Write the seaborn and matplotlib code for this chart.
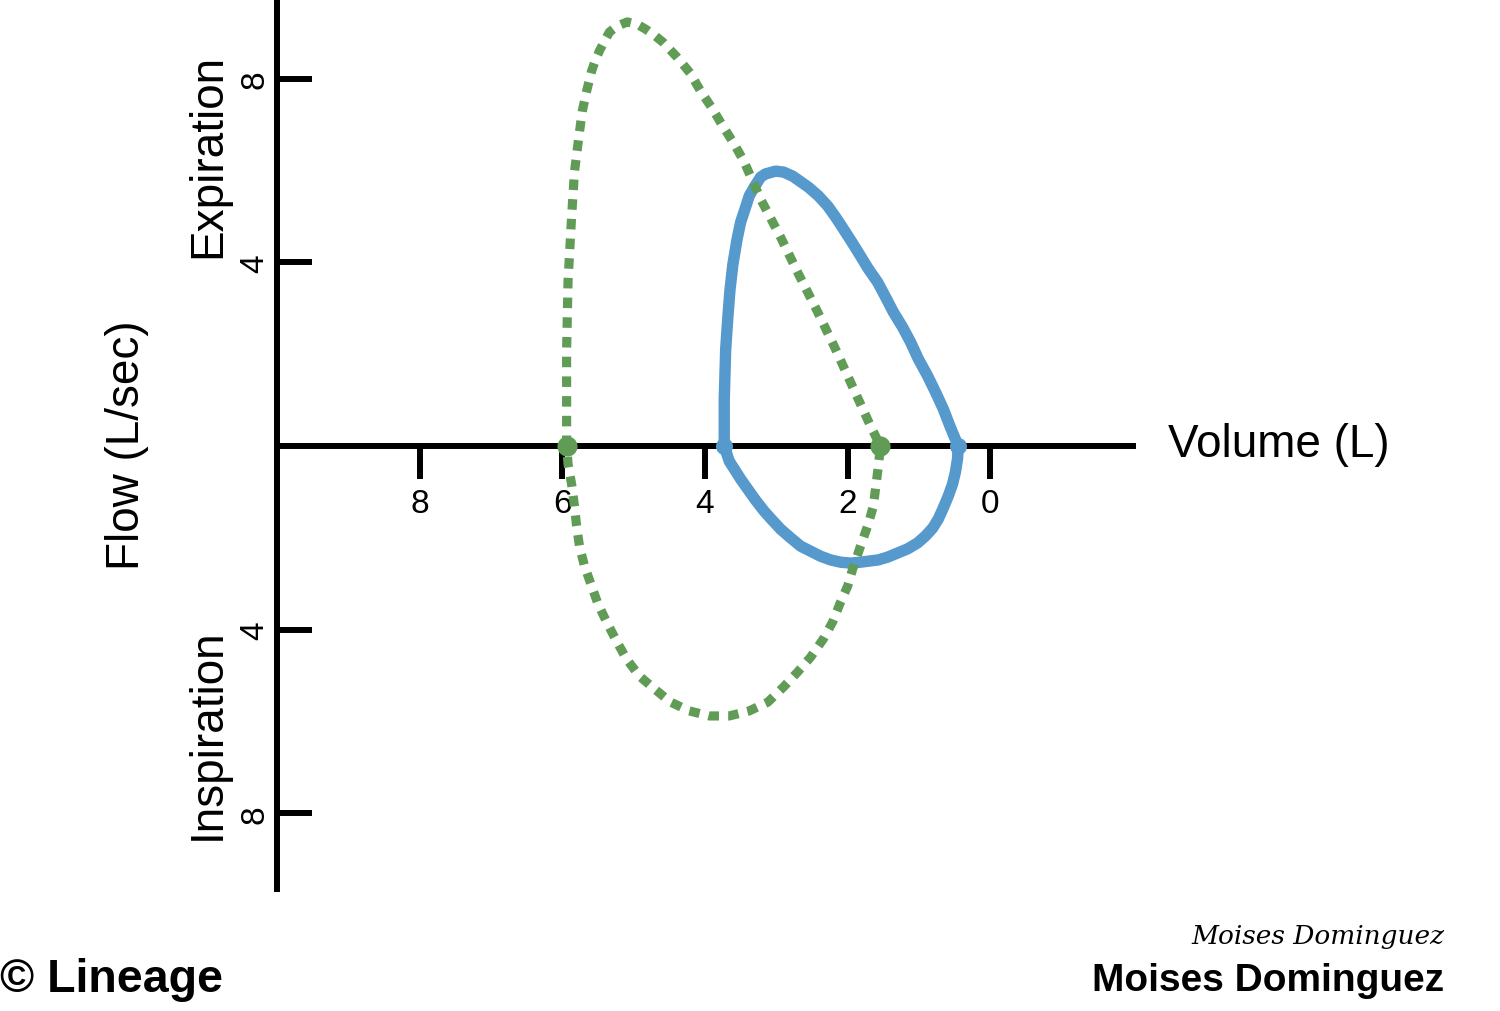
import numpy as np
import pandas as pd
import matplotlib
matplotlib.use("Agg")
import matplotlib.pyplot as plt
import seaborn as sns

# Curva verde (punteada): espiración y luego inspiración
green_exp_vol = [5.94, 5.94, 5.92, 5.87, 5.83, 5.76, 5.72, 5.66, 5.59, 5.54, 5.48, 5.41,
                 5.34, 5.23, 5.09, 4.95, 4.83, 4.71, 4.59, 4.39, 4.21, 4.06, 3.90, 3.75,
                 3.59, 3.45, 3.22, 2.94, 2.69, 2.42, 2.17, 1.93, 1.68, 1.54]
green_exp_flow = [0.0, 2.1, 3.6, 5.0, 5.97, 6.84, 7.30, 7.73, 8.17, 8.39, 8.61, 8.82,
                  9.02, 9.15, 9.24, 9.19, 9.08, 8.95, 8.80, 8.47, 8.13, 7.73, 7.36, 6.97,
                  6.58, 6.19, 5.38, 4.55, 3.75, 2.92, 2.11, 1.29, 0.44, 0.0]
green_insp_vol = [1.57, 1.64, 1.72, 1.82, 1.93, 2.00, 2.10, 2.21, 2.34, 2.52, 2.70,
                  2.90, 3.12, 3.38, 3.66, 3.94, 4.22, 4.48, 4.71, 4.92, 5.10, 5.24,
                  5.38, 5.50, 5.59, 5.69, 5.76, 5.80, 5.83, 5.87, 5.92, 5.94]
green_insp_flow = [-0.44, -1.31, -1.74, -2.18, -2.68, -3.05, -3.40, -3.83, -4.20, -4.60, -4.92,
                   -5.25, -5.58, -5.77, -5.88, -5.88, -5.77, -5.58, -5.29, -5.01, -4.64, -4.25,
                   -3.83, -3.44, -3.05, -2.61, -2.18, -1.74, -1.31, -0.83, -0.39, 0.0]

# Curva azul (continua)
blue_exp_vol = [3.73, 3.73, 3.72, 3.71, 3.68, 3.65, 3.61, 3.55, 3.50, 3.44, 3.38, 3.31,
                3.22, 3.15, 3.01, 2.90, 2.77, 2.55, 2.41, 2.28, 2.17, 2.06, 1.94, 1.82,
                1.71, 1.58, 1.47, 1.36, 1.23, 1.12, 1.01, 0.88, 0.77, 0.66, 0.56, 0.45]
blue_exp_flow = [0.0, 1.02, 1.57, 2.11, 2.80, 3.40, 3.95, 4.51, 4.88, 5.16, 5.45, 5.64,
                 5.86, 5.93, 5.99, 5.97, 5.88, 5.64, 5.45, 5.23, 4.99, 4.73, 4.44, 4.14,
                 3.86, 3.57, 3.25, 2.92, 2.59, 2.27, 1.90, 1.53, 1.18, 0.81, 0.41, 0.0]
blue_insp_vol = [0.46, 0.49, 0.53, 0.59, 0.66, 0.73, 0.81, 0.91, 1.02, 1.16, 1.30, 1.44,
                 1.57, 1.82, 1.96, 2.10, 2.24, 2.38, 2.52, 2.66, 2.80, 2.94, 3.06, 3.17,
                 3.29, 3.40, 3.50, 3.59, 3.66, 3.73]
blue_insp_flow = [-0.28, -0.57, -0.83, -1.09, -1.35, -1.59, -1.79, -1.96, -2.11, -2.24, -2.33, -2.42,
                  -2.48, -2.53, -2.55, -2.53, -2.48, -2.40, -2.29, -2.18, -2.00, -1.81, -1.61, -1.42,
                  -1.18, -0.94, -0.72, -0.50, -0.33, 0.0]

# Puntos sobre el eje de volumen
green_pts_vol = [5.94, 1.54]
blue_pts_vol = [3.73, 0.45]

x_ticks = [8, 6, 4, 2, 0]
y_ticks = [8, 4, -4, -8]
y_tick_labels = ["8", "4", "4", "8"]

green = "#609c56"
blue = "#5699cd"

sns.set_style("white")
plt.rcParams['font.family'] = ['Liberation Sans', 'DejaVu Sans']
plt.rcParams['text.color'] = 'black'
plt.rcParams['xtick.color'] = 'black'
plt.rcParams['ytick.color'] = 'black'

green_df = pd.DataFrame({"vol": green_exp_vol + green_insp_vol,
                         "flow": green_exp_flow + green_insp_flow})
blue_df = pd.DataFrame({"vol": blue_exp_vol + blue_insp_vol,
                        "flow": blue_exp_flow + blue_insp_flow})

fig = plt.figure(figsize=(15, 10.12), dpi=100)
ax = fig.add_axes([277 / 1500, 122 / 1012, 856 / 1500, 890 / 1012])

sns.lineplot(data=blue_df, x="vol", y="flow", sort=False, estimator=None,
             color=blue, linewidth=8.2, ax=ax, zorder=3, solid_joinstyle="round")
sns.lineplot(data=green_df, x="vol", y="flow", sort=False, estimator=None,
             color=green, linewidth=6.6, linestyle=(0, (1.15, 1.0)), ax=ax, zorder=4)
sns.scatterplot(x=blue_pts_vol, y=[0, 0], color=blue, s=150, linewidth=0,
                ax=ax, zorder=5, clip_on=False)
sns.scatterplot(x=green_pts_vol, y=[0, 0], color=green, s=210, linewidth=0,
                ax=ax, zorder=6, clip_on=False)

ax.set_xlim(10, -2)
ax.set_ylim(-9.65, 9.74)
ax.set_xlabel("")
ax.set_ylabel("")

for s in ["top", "right"]:
    ax.spines[s].set_visible(False)
ax.spines["bottom"].set_position(("data", 0))
for s in ["left", "bottom"]:
    ax.spines[s].set_linewidth(4.3)
    ax.spines[s].set_color("black")

ax.set_xticks(x_ticks)
ax.set_xticklabels([str(t) for t in x_ticks])
ax.set_yticks(y_ticks)
ax.set_yticklabels(y_tick_labels)
ax.tick_params(axis="x", bottom=True, direction="out", length=24, width=4.3,
               labelsize=24, pad=6, colors="black")
ax.tick_params(axis="y", left=True, direction="in", length=25, width=4.3,
               labelsize=24, pad=5, labelrotation=90, colors="black")
for lbl in ax.get_yticklabels():
    lbl.set_va("center")

# Textos
fig.text(1168 / 1500, 1 - 445 / 1012, "Volume (L)", fontsize=33,
         ha="left", va="center")
fig.text(127 / 1500, 1 - 445 / 1012, "Flow (L/sec)", fontsize=33,
         rotation=90, ha="center", va="center")
fig.text(208 / 1500, 1 - 156 / 1012, "Expiration", fontsize=33,
         rotation=90, ha="center", va="center")
fig.text(208 / 1500, 1 - 734 / 1012, "Inspiration", fontsize=33,
         rotation=90, ha="center", va="center")

fig.text(0 / 1500, 1 - 980 / 1012, "© Lineage", fontsize=33.5, fontweight="bold",
         ha="left", va="center")
fig.text(1444 / 1500, 1 - 981 / 1012, "Moises Dominguez", fontsize=28,
         fontweight="bold", ha="right", va="center")
fig.text(1444 / 1500, 1 - 937 / 1012, "Moises Dominguez", fontsize=19,
         family="DejaVu Serif", style="italic", ha="right", va="center")

fig.savefig("out.png", dpi=100)
